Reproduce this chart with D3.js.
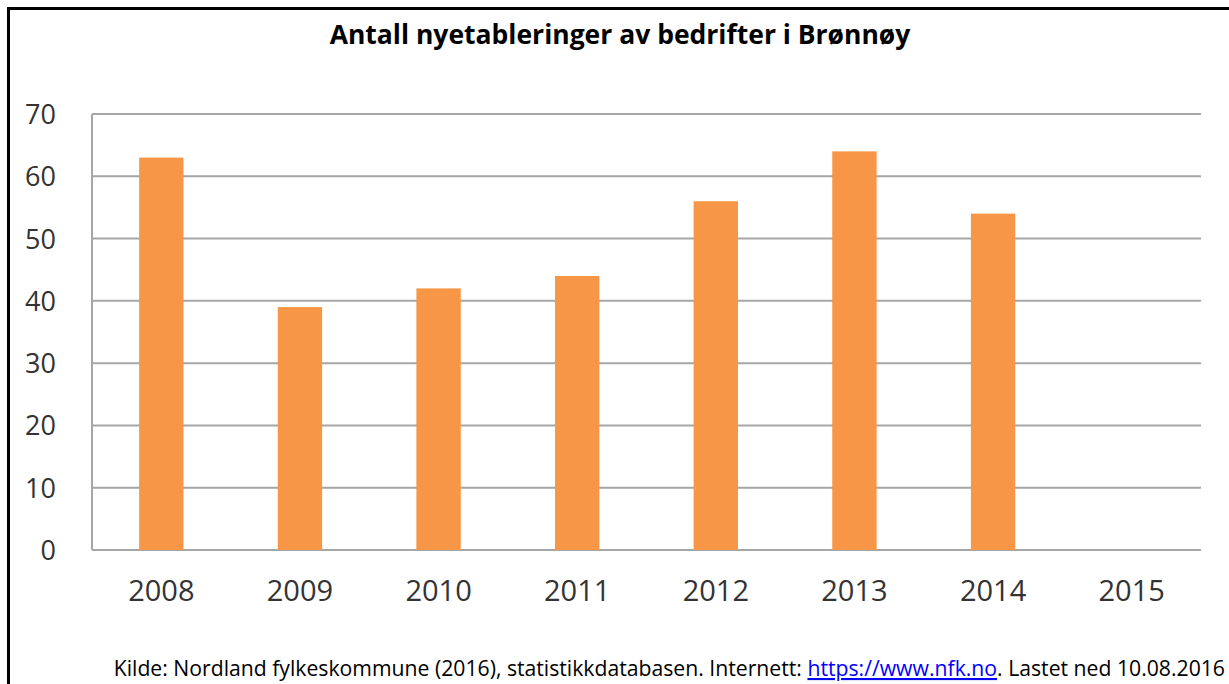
<!DOCTYPE html>
<html>
<head>
<meta charset="utf-8">
<script src="https://cdn.jsdelivr.net/npm/d3@7"></script>
<style>
  body { margin: 0; background: #fff; }
  text { font-family: "Open Sans", sans-serif; }
  .axis path, .axis line { stroke: none; }
  .axis text { fill: #333333; }
</style>
</head>
<body>
<div id="chart"></div>
<script>
// data
years = ["2008", "2009", "2010", "2011", "2012", "2013", "2014", "2015"]
counts = [63, 39, 42, 44, 56, 64, 54, null]
yTicks = [0, 10, 20, 30, 40, 50, 60, 70]

width = 1229
height = 684

margins = {top: 114, bottom: 134, left: 92, right: 28}

svg = d3.select("#chart").append("svg")
    .attr("width", width)
    .attr("height", height)

// frame (cut at right and bottom like the original screenshot)
svg.append("rect")
    .attr("x", 8.5).attr("y", 8.5)
    .attr("width", width + 20).attr("height", height + 20)
    .attr("fill", "none")
    .attr("stroke", "#000")
    .attr("stroke-width", 3)

xScale = d3.scaleBand()
    .domain(years)
    .range([margins.left, width - margins.right])
    .paddingInner(0.68)
    .paddingOuter(0.34)

yScale = d3.scaleLinear()
    .domain([0, 70])
    .range([height - margins.bottom, margins.top])

// gridlines
svg.append("g").selectAll("line")
    .data(yTicks).enter()
    .append("line")
    .attr("x1", margins.left)
    .attr("x2", width - margins.right)
    .attr("y1", function(d){ return yScale(d) })
    .attr("y2", function(d){ return yScale(d) })
    .attr("stroke", "#a6a6a6")
    .attr("stroke-width", 2)

// left axis line
svg.append("line")
    .attr("x1", margins.left).attr("x2", margins.left)
    .attr("y1", yScale(70)).attr("y2", yScale(0))
    .attr("stroke", "#a6a6a6")
    .attr("stroke-width", 2)

// bars
svg.append("g").selectAll("rect")
    .data(counts.map(function(c, i){ return {year: years[i], value: c} })
        .filter(function(d){ return d.value != null }))
    .enter()
    .append("rect")
    .attr("x", function(d){ return xScale(d.year) })
    .attr("width", xScale.bandwidth())
    .attr("y", function(d){ return yScale(d.value) })
    .attr("height", function(d){ return yScale(0) - yScale(d.value) })
    .attr("fill", "#f79646")

yAxis = d3.axisLeft(yScale).tickValues(yTicks).tickSize(0).tickPadding(36)
svg.append("g")
    .attr("class", "axis y-axis")
    .attr("transform", "translate(" + margins.left + ",0)")
    .call(yAxis)
    .selectAll("text")
    .attr("font-size", 27)
    .attr("dy", "0.35em")

xAxis = d3.axisBottom(xScale).tickSize(0).tickPadding(30)
svg.append("g")
    .attr("class", "axis x-axis")
    .attr("transform", "translate(0," + yScale(0) + ")")
    .call(xAxis)
    .selectAll("text")
    .attr("font-size", 29)
    .attr("dy", "0.71em")

// title
svg.append("text")
    .attr("x", 620)
    .attr("y", 44)
    .attr("text-anchor", "middle")
    .attr("font-weight", "bold")
    .attr("font-size", 26.5)
    .attr("fill", "#000")
    .text("Antall nyetableringer av bedrifter i Brønnøy")

// source line
src = svg.append("text")
    .attr("x", 1225)
    .attr("y", 676)
    .attr("text-anchor", "end")
    .attr("font-size", 21.2)
    .attr("fill", "#000")
src.append("tspan").text("Kilde: Nordland fylkeskommune (2016), statistikkdatabasen. Internett: ")
src.append("tspan").text("https://www.nfk.no")
    .attr("fill", "#0000ff")
    .attr("text-decoration", "underline")
src.append("tspan").text(". Lastet ned 10.08.2016")
</script>
</body>
</html>
